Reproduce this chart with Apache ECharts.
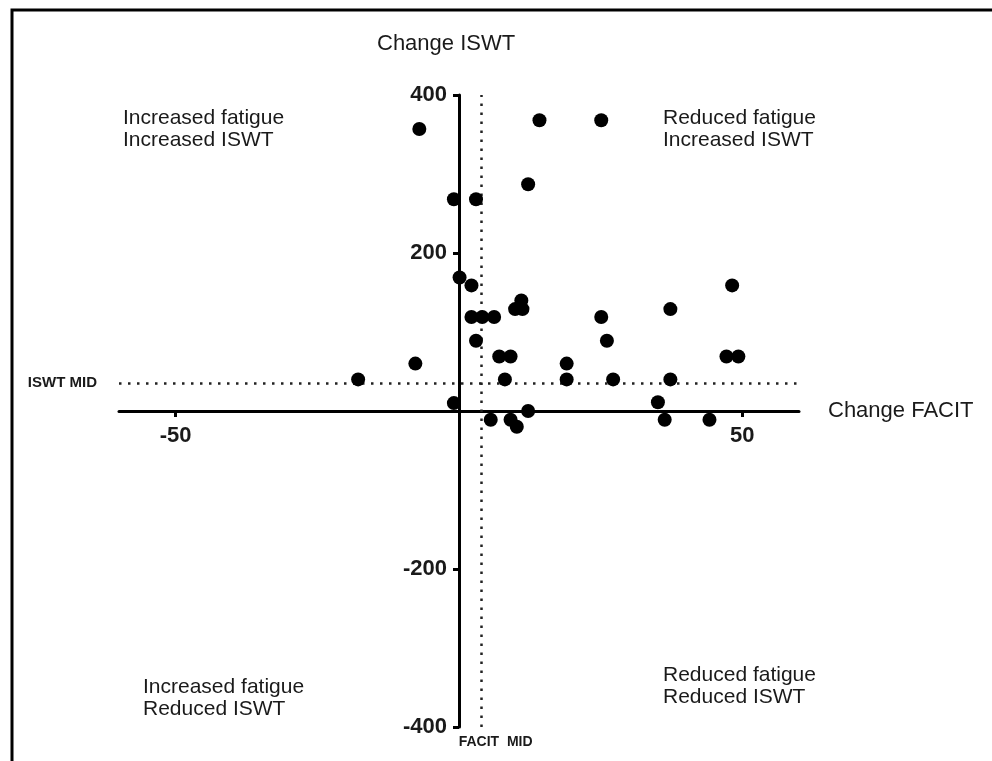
<!DOCTYPE html>
<html>
<head>
<meta charset="utf-8">
<script src="https://cdn.jsdelivr.net/npm/echarts@6/dist/echarts.min.js"></script>
<style>
  html, body { margin: 0; padding: 0; background: #fff; }
  #chart { width: 992px; height: 761px; }
</style>
</head>
<body>
<div id="chart"></div>
<script>
// change in FACIT score (x) and change in ISWT distance (y), one entry per patient
const facitChange = [-7, 14.2, 25.1, 12.2, -0.9, 3, 0.1, 2.2, 11, 9.9, 11.2, 2.2, 4.1, 6.2, 25.1, 3,
  26.1, 7.1, 9.1, -7.7, 19, -17.8, 8.1, 19, 27.2, -0.9, 12.2, 5.6, 9.1, 10.2,
  48.2, 37.3, 47.2, 49.3, 37.3, 35.1, 36.3, 44.2]
const iswtChange = [357, 368, 368, 287, 268, 268, 169, 159, 140, 129, 129, 119, 119, 119, 119, 89,
  89, 69, 69, 60, 60, 40, 40, 40, 40, 10, 0, -11, -11, -20,
  159, 129, 69, 69, 40, 11, -11, -11]

const facitMid = 4
const iswtMid = 35
const xRange = [-60, 60]
const yRange = [-400, 400]
const xTicks = [-50, 50]
const yTicks = [-400, -200, 200, 400]

const font = "Liberation Sans, Arial, sans-serif"
const ink = "#1a1a1a"

const W = 992, H = 761
const grid = { left: 119, right: 193, top: 95, bottom: 34 }
const gridW = W - grid.left - grid.right
const gridH = H - grid.top - grid.bottom
// axes cross at the origin; labels have to follow, so shift the axes in by where 0 falls
const yAxisShift = -gridW * (0 - xRange[0]) / (xRange[1] - xRange[0])
const xAxisShift = -gridH * (0 - yRange[0]) / (yRange[1] - yRange[0])

const chart = echarts.init(document.getElementById("chart"))

const quadrantText = (left, top, text) => ({
  type: "text",
  left, top,
  style: { text, font: `21px ${font}`, fill: ink, lineHeight: 22 },
})

chart.setOption({
  animation: false,
  title: {
    text: "Change ISWT",
    left: 372,
    top: 28,
    textStyle: { fontFamily: font, fontSize: 22, fontWeight: "normal", color: ink },
  },
  grid: { ...grid, outerBoundsMode: "none" },
  xAxis: {
    type: "value",
    min: xRange[0],
    max: xRange[1],
    position: "bottom",
    offset: xAxisShift,
    name: "Change FACIT",
    nameLocation: "end",
    nameGap: 29,
    nameTextStyle: { fontFamily: font, fontSize: 22, color: ink },
    splitLine: { show: false },
    axisLine: { onZero: false, lineStyle: { color: "#000", width: 3 } },
    axisTick: { show: true, customValues: xTicks, length: 6, lineStyle: { color: "#000", width: 3 } },
    axisLabel: {
      customValues: xTicks,
      margin: 14,
      fontFamily: font, fontSize: 22, fontWeight: "bold", color: ink,
    },
  },
  yAxis: {
    type: "value",
    min: yRange[0],
    max: yRange[1],
    interval: 200,
    position: "left",
    offset: yAxisShift,
    splitLine: { show: false },
    axisLine: { onZero: false, lineStyle: { color: "#000", width: 3 } },
    axisTick: { show: true, customValues: yTicks, length: 6, lineStyle: { color: "#000", width: 3 } },
    axisLabel: {
      customValues: yTicks,
      margin: 12,
      fontFamily: font, fontSize: 22, fontWeight: "bold", color: ink,
    },
  },
  graphic: [
    {
      type: "polyline",
      shape: { points: [[12, 761], [12, 10], [992, 10]] },
      style: { stroke: "#000", lineWidth: 3, fill: null },
    },
    quadrantText(123, 107, "Increased fatigue\nIncreased ISWT"),
    quadrantText(663, 107, "Reduced fatigue\nIncreased ISWT"),
    quadrantText(143, 676, "Increased fatigue\nReduced ISWT"),
    quadrantText(663, 664, "Reduced fatigue\nReduced ISWT"),
  ],
  series: [
    {
      type: "scatter",
      symbol: "circle",
      symbolSize: 14,
      itemStyle: { color: "#000", opacity: 1 },
      z: 5,
      data: facitChange.map((x, i) => [x, iswtChange[i]]),
      markLine: {
        silent: true,
        symbol: ["none", "none"],
        lineStyle: { color: "#222", width: 2.5, type: [2.5, 6.5] },
        data: [
          {
            xAxis: facitMid,
            label: {
              show: true, position: "start", formatter: "FACIT  MID", distance: 8, offset: [14, 0],
              fontFamily: font, fontSize: 14, fontWeight: "bold", color: ink,
            },
          },
          {
            yAxis: iswtMid,
            label: {
              show: true, position: "start", formatter: "ISWT MID", distance: 22,
              fontFamily: font, fontSize: 15, fontWeight: "bold", color: ink,
            },
          },
        ],
      },
    },
  ],
})
</script>
</body>
</html>
